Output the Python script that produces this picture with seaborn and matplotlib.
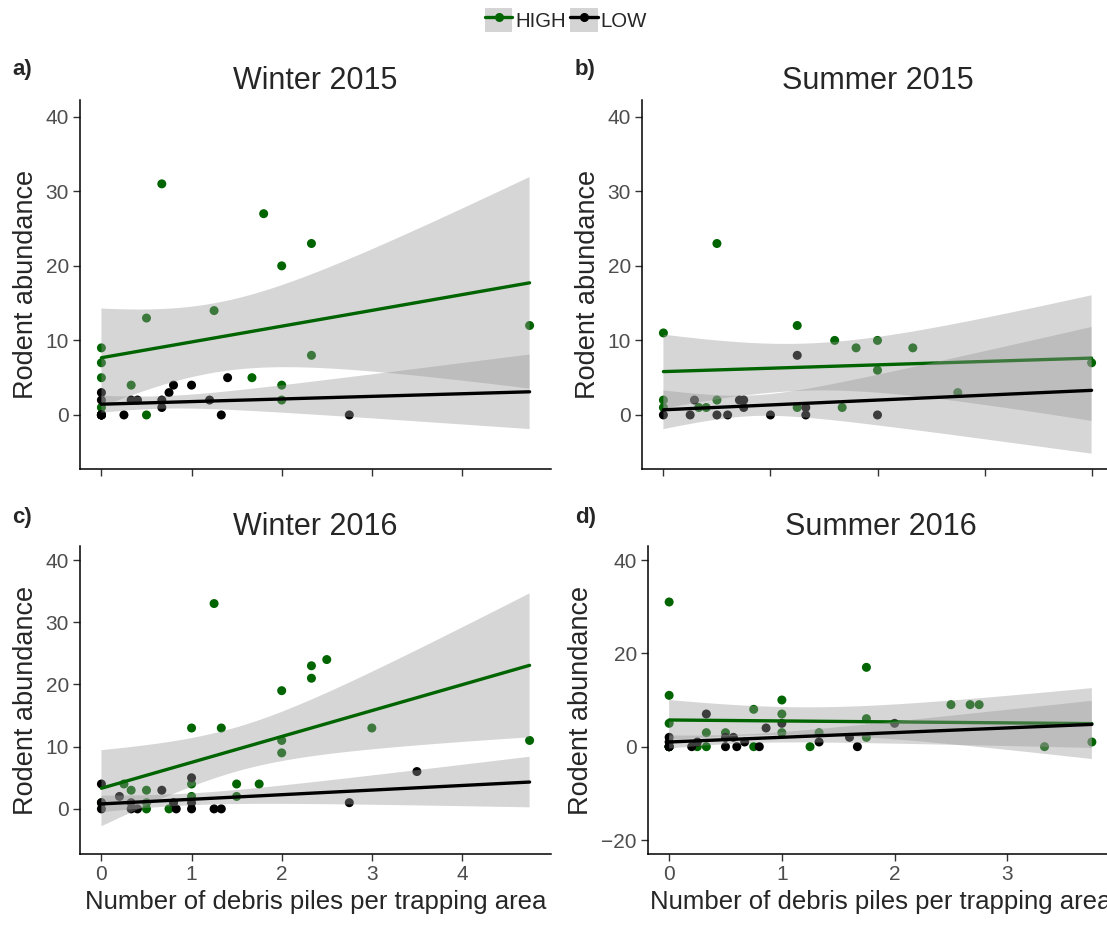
import numpy as np
import pandas as pd
import matplotlib
matplotlib.use("Agg")
import matplotlib.pyplot as plt
import seaborn as sns
from matplotlib.lines import Line2D
from matplotlib.patches import Rectangle
from matplotlib.legend_handler import HandlerTuple

# ---------------- data ----------------
# a) Winter 2015
a_high_x = [0, 0, 0, 0, 0, 0.33, 0.5, 0.5, 0.67, 1.25, 1.67, 1.8, 2, 2, 2, 2.33, 2.33, 4.75]
a_high_y = [0, 1, 5, 7, 9, 4, 13, 0, 31, 14, 5, 27, 20, 4, 2, 23, 8, 12]
a_low_x = [0, 0, 0, 0, 0, 0, 0.25, 0.33, 0.4, 0.67, 0.67, 0.75, 0.8, 1.0, 1.2, 1.33, 1.4, 2.75]
a_low_y = [0, 0, 0, 0, 2, 3, 0, 2, 2, 2, 1, 3, 4, 4, 2, 0, 5, 0]

# b) Summer 2015
b_high_x = [0, 0, 0, 0.33, 0.4, 0.5, 0.5, 1.25, 1.25, 1.6, 1.67, 1.8, 2, 2, 2.33, 2.75, 4]
b_high_y = [11, 2, 1, 1, 1, 23, 2, 12, 1, 10, 1, 9, 10, 6, 9, 3, 7]
b_low_x = [0, 0.25, 0.29, 0.5, 0.6, 0.71, 0.75, 0.75, 1.0, 1.25, 1.33, 1.33, 2]
b_low_y = [0, 0, 2, 0, 0, 2, 2, 1, 0, 8, 1, 0, 0]

# c) Winter 2016
c_high_x = [0, 0.25, 0.33, 0.5, 0.5, 0.5, 0.75, 1, 1, 1, 1.25, 1.33, 1.5, 1.5, 1.75,
            2, 2, 2, 2.33, 2.33, 2.5, 3, 4.75]
c_high_y = [1, 4, 3, 3, 1, 0, 0, 13, 4, 2, 33, 13, 4, 2, 4, 19, 11, 9, 23, 21, 24, 13, 11]
c_low_x = [0, 0, 0, 0.2, 0.33, 0.33, 0.4, 0.67, 0.8, 0.83, 1, 1, 1, 1.25, 1.33, 2.75, 3.5]
c_low_y = [4, 1, 0, 2, 1, 0, 0, 3, 1, 0, 5, 1, 0, 0, 0, 1, 6]

# d) Summer 2016
d_high_x = [0, 0, 0, 0, 0, 0, 0.25, 0.33, 0.33, 0.5, 0.75, 0.75, 1, 1, 1, 1.25, 1.33,
            1.75, 1.75, 1.75, 2.5, 2.67, 2.75, 3.33, 3.75]
d_high_y = [31, 11, 5, 0, 0, 0, 0, 3, 0, 3, 8, 0, 10, 7, 3, 0, 3, 17, 6, 2, 9, 9, 9, 0, 1]
d_low_x = [0, 0, 0, 0, 0, 0.2, 0.25, 0.33, 0.5, 0.5, 0.57, 0.6, 0.67, 0.8, 0.86, 1, 1.33,
           1.6, 1.67, 2]
d_low_y = [2, 1, 0, 0, 0, 0, 1, 7, 2, 0, 2, 0, 1, 0, 4, 5, 1, 2, 0, 5]

titles = ["Winter 2015", "Summer 2015", "Winter 2016", "Summer 2016"]
panel_tags = ["a)", "b)", "c)", "d)"]
groups = ["HIGH", "LOW"]
x_ticks_ac = [0, 1, 2, 3, 4]
x_ticks_b = [0, 1, 2, 3, 4]
x_ticks_d = [0, 1, 2, 3]
y_ticks_abc = [0, 10, 20, 30, 40]
y_ticks_d = [-20, 0, 20, 40]
xlabel = "Number of debris piles per trapping area"
ylabel = "Rodent abundance"

# ---------------- style ----------------
sns.set_style("ticks")
plt.rcParams["font.family"] = ["Liberation Sans", "DejaVu Sans"]

colors = {"HIGH": "#006400", "LOW": "#000000"}
RIBBON = (0.6, 0.6, 0.6)

W, H = 1107, 926
fig = plt.figure(figsize=(W / 100, H / 100), dpi=100)


def px_axes(left, top, right, bottom):
    return fig.add_axes([left / W, 1 - bottom / H, (right - left) / W, (bottom - top) / H])


def t975(df):
    # Cornish-Fisher expansion of the Student t 97.5 % quantile
    z = 1.959964
    return (z + (z**3 + z) / (4 * df) + (5 * z**5 + 16 * z**3 + 3 * z) / (96 * df**2)
            + (3 * z**7 + 19 * z**5 + 17 * z**3 - 15 * z) / (384 * df**3))


def lm_fit(x, y, grid):
    x = np.asarray(x, float)
    y = np.asarray(y, float)
    n = len(x)
    slope, icpt = np.polyfit(x, y, 1)
    resid = y - (icpt + slope * x)
    s2 = (resid ** 2).sum() / (n - 2)
    sxx = ((x - x.mean()) ** 2).sum()
    se = np.sqrt(s2 * (1 / n + (grid - x.mean()) ** 2 / sxx))
    yhat = icpt + slope * grid
    t = t975(n - 2)
    return yhat, yhat - t * se, yhat + t * se


def draw(ax, hx, hy, lx, ly, xmax, ylim, yticks, xticks, title, show_xlabels):
    df = pd.concat([
        pd.DataFrame({"x": hx, "y": hy, "grp": "HIGH"}),
        pd.DataFrame({"x": lx, "y": ly, "grp": "LOW"}),
    ], ignore_index=True)
    sns.scatterplot(data=df, x="x", y="y", hue="grp", hue_order=groups, palette=colors,
                    s=42, linewidth=0, ax=ax, legend=False, zorder=2)
    grid = np.linspace(0, xmax, 100)
    z = 3
    for g in groups:
        sub = df[df.grp == g]
        yhat, lo, hi = lm_fit(sub.x, sub.y, grid)
        ax.fill_between(grid, lo, hi, facecolor=RIBBON, alpha=0.4, edgecolor="none", zorder=z)
        fit = pd.DataFrame({"x": grid, "y": yhat})
        sns.lineplot(data=fit, x="x", y="y", color=colors[g], lw=2.4, ax=ax, zorder=z + 0.5)
        z += 1
    pad = 0.05 * xmax
    ax.set_xlim(-pad, xmax + pad)
    ax.set_ylim(*ylim)
    ax.set_xticks(xticks)
    ax.set_yticks(yticks)
    sns.despine(ax=ax)
    for s in ["left", "bottom"]:
        ax.spines[s].set_linewidth(1.1)
        ax.spines[s].set_color("black")
    ax.tick_params(length=5, width=1.0, color="#333333", labelcolor="#4d4d4d",
                   labelsize=15, pad=3)
    ax.set_title(title, fontsize=22, pad=8)
    ax.set_ylabel(ylabel, fontsize=19.5, labelpad=5)
    if show_xlabels:
        ax.set_xlabel(xlabel, fontsize=18.5, labelpad=4)
    else:
        ax.set_xlabel("")
        ax.tick_params(axis="x", labelbottom=False)


ax_a = px_axes(80, 100, 551, 469)
ax_b = px_axes(642, 100, 1113, 469)
ax_c = px_axes(80, 546, 551, 854)
ax_d = px_axes(648, 546, 1113, 854)

draw(ax_a, a_high_x, a_high_y, a_low_x, a_low_y, 4.75, (-7.25, 42.25), y_ticks_abc, x_ticks_ac, titles[0], False)
draw(ax_b, b_high_x, b_high_y, b_low_x, b_low_y, 4.0, (-7.25, 42.25), y_ticks_abc, x_ticks_b, titles[1], False)
draw(ax_c, c_high_x, c_high_y, c_low_x, c_low_y, 4.75, (-7.25, 42.25), y_ticks_abc, x_ticks_ac, titles[2], True)
draw(ax_d, d_high_x, d_high_y, d_low_x, d_low_y, 3.75, (-23, 43), y_ticks_d, x_ticks_d, titles[3], True)

# panel tags
for tag, (px, py) in zip(panel_tags, [(12, 70), (575, 70), (12, 517), (575, 517)]):
    fig.text(px / W, 1 - py / H, tag, fontsize=16, fontweight="bold", ha="left", va="center")

# legend
handles = []
for g in groups:
    bg = Rectangle((0, 0), 1, 1, facecolor="#d4d4d4", edgecolor="none")
    ln = Line2D([0], [0], color=colors[g], lw=2.4, marker="o", markersize=5.5)
    handles.append((bg, ln))
fig.legend(handles, groups, handler_map={tuple: HandlerTuple(ndivide=1)},
           loc="center", bbox_to_anchor=(566 / W, 1 - 20 / H), ncol=2, frameon=False,
           fontsize=14.7, handlelength=1.35, handleheight=1.4, handletextpad=0.15,
           columnspacing=0.2, borderaxespad=0)

fig.savefig("out.png", dpi=100)
